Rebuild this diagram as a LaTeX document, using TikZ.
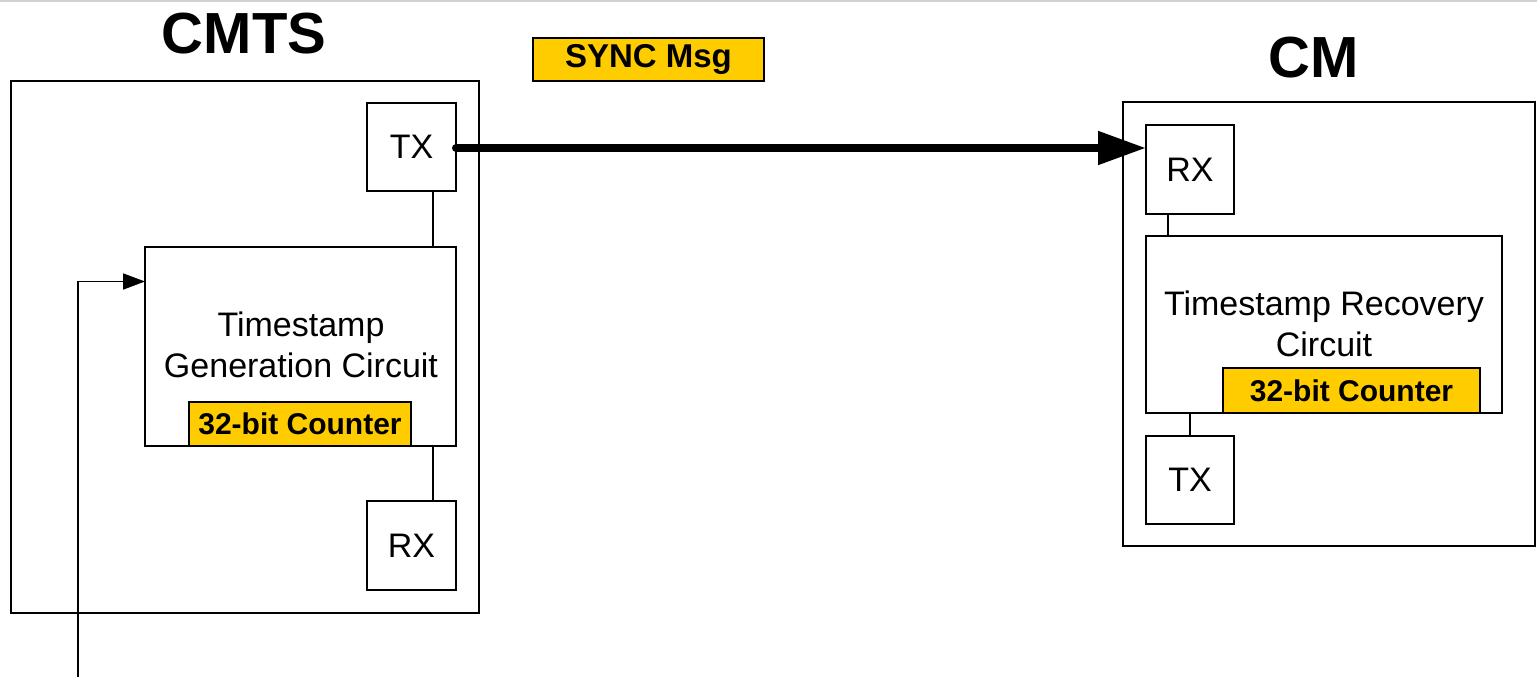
\documentclass[tikz,border=0pt]{standalone}
\usepackage{fontspec}
\setmainfont{Liberation Sans}
\usetikzlibrary{arrows.meta,calc}
\definecolor{ctryellow}{HTML}{FFCC00}
\begin{document}
\begin{tikzpicture}[x=1pt,y=-1pt,
  box/.style={draw=black,line width=1.4pt,fill=white,inner sep=0pt,outer sep=0pt},
  counterbox/.style={draw=black,line width=1.4pt,fill=ctryellow,inner sep=0pt,outer sep=0pt,font=\fontsize{30}{36}\selectfont\bfseries},
  lbl/.style={font=\fontsize{34}{41}\selectfont,align=center,inner sep=0pt},
  title/.style={font=\fontsize{58}{66}\selectfont\bfseries,inner sep=0pt},
  wire/.style={line width=1.8pt}]
\useasboundingbox (0,0) rectangle (1537,677);
\fill[white] (0,0) rectangle (1537,677);
\draw[black!18,line width=1.5pt] (0,1) -- (1537,1);

% CMTS
\node[title] (cmtsT) at (244,34) {CMTS};
\node[box,minimum width=468pt,minimum height=532pt] (cmts) at (245,347) {};
\node[box,minimum width=89pt,minimum height=88pt,font=\fontsize{34}{41}\selectfont] (tx1) at (411.5,147) {TX};
\node[box,minimum width=311pt,minimum height=199pt] (gen) at (300.5,346.5) {};
\node[lbl] (genT) at (301,345) {Timestamp\\Generation Circuit};
\node[counterbox,minimum width=222pt,minimum height=44pt] (cnt1) at (300,424) {32-bit Counter};
\node[box,minimum width=89pt,minimum height=89pt,font=\fontsize{34}{41}\selectfont] (rx1) at (411.5,545.5) {RX};
\draw[wire] ([xshift=21.5pt]tx1.south) -- ([xshift=21.5pt]tx1.south |- gen.north);
\draw[wire] ([xshift=21.5pt]rx1.north |- gen.south) -- ([xshift=21.5pt]rx1.north);

% input arrow
\coordinate (inp) at (78,677);
\draw[wire,-{Triangle[length=22pt,width=16pt]}] (inp) |- ([yshift=-34.5pt]gen.north west);

% SYNC msg
\node[counterbox,minimum width=231pt,minimum height=43pt,font=\fontsize{33}{39}\selectfont\bfseries] (sync) at (648.5,59.5) {SYNC Msg};

% CM
\node[title] (cmT) at (1314,58) {CM};
\node[box,minimum width=412pt,minimum height=444pt] (cm) at (1329,324) {};
\node[box,minimum width=88pt,minimum height=89pt,font=\fontsize{34}{41}\selectfont] (rx2) at (1190,169.5) {RX};
\node[box,minimum width=356pt,minimum height=177pt] (rec) at (1324,324.5) {};
\node[lbl] (recT) at (1324,324) {Timestamp Recovery\\Circuit};
\node[counterbox,minimum width=257pt,minimum height=45pt] (cnt2) at (1351.5,390.5) {32-bit Counter};
\node[box,minimum width=88pt,minimum height=88pt,font=\fontsize{34}{41}\selectfont] (tx2) at (1190,480) {TX};
\draw[wire] ([xshift=-22pt]rx2.south) -- ([xshift=-22pt]rx2.south |- rec.north);
\draw[wire] (tx2.north |- rec.south) -- (tx2.north);

% sync arrow
\draw[line width=8pt,line cap=round,-{Triangle[length=48pt,width=32pt]}] ([yshift=-1pt]tx1.east) -- ([yshift=-1pt]tx1.east -| rx2.west);
\end{tikzpicture}
\end{document}
